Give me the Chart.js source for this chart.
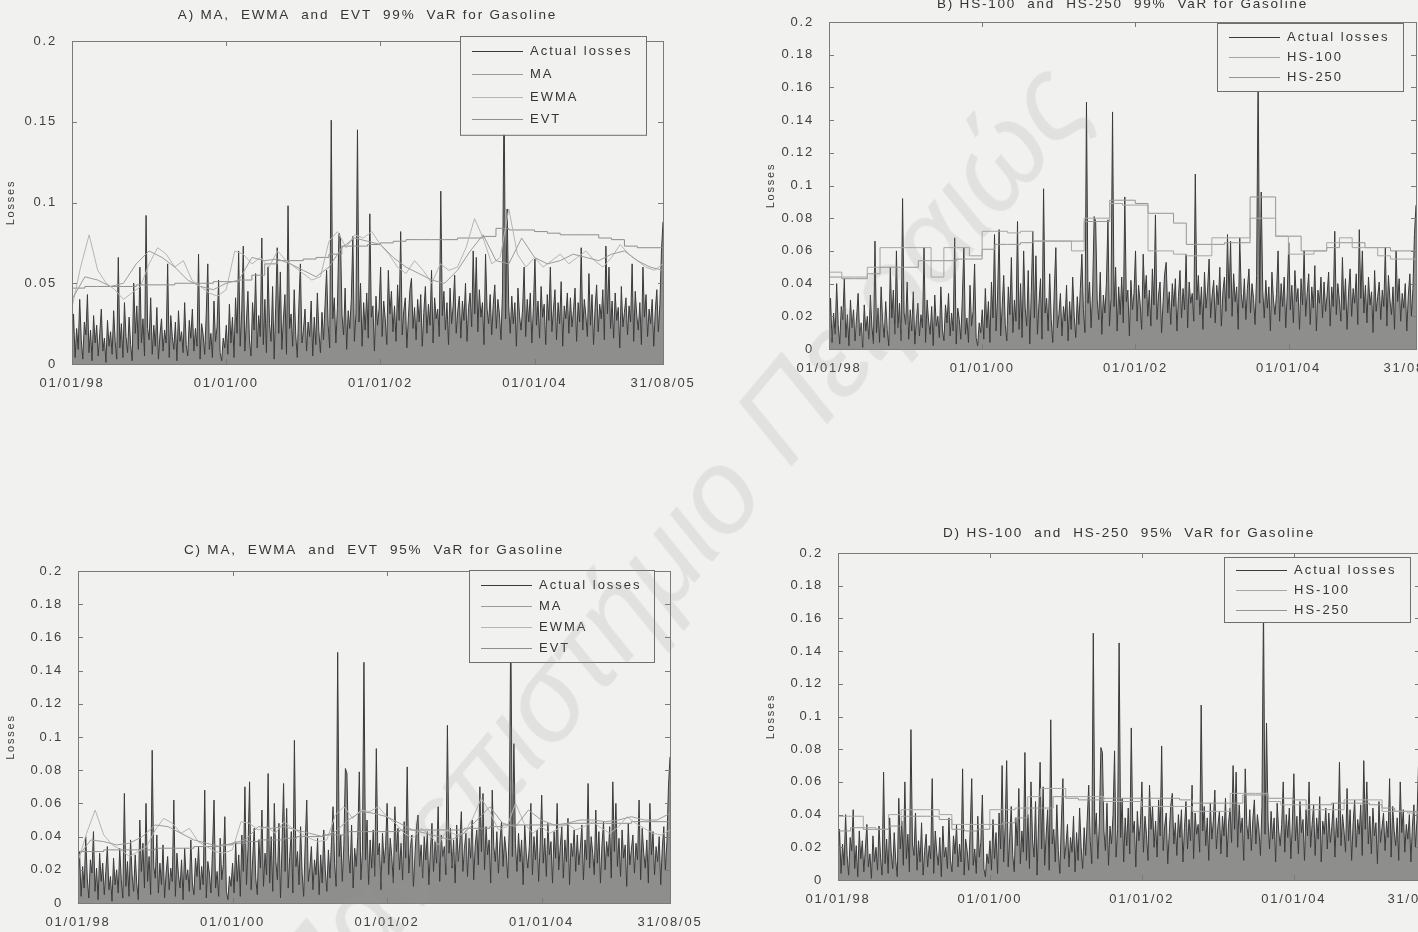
<!DOCTYPE html>
<html lang="el">
<head>
<meta charset="UTF-8">
<title>VaR for Gasoline</title>
<script src="https://cdn.jsdelivr.net/npm/chart.js"></script>
<style>
  html, body { margin: 0; padding: 0; }
  body { width: 1418px; height: 932px; overflow: hidden; background: #f1f1ef; position: relative; }
  canvas { position: absolute; }
  #wm { position: absolute; left: 673px; top: 545px; transform: translate(-50%, -50%) rotate(-50deg);
        font: italic 118px "Liberation Sans", Arial, sans-serif; color: rgba(150,150,150,0.17);
        white-space: nowrap; pointer-events: none; }
</style>
</head>
<body>

<canvas id="chartA"></canvas>
<canvas id="chartB"></canvas>
<canvas id="chartC"></canvas>
<canvas id="chartD"></canvas>
<div id="wm">Πανεπιστήμιο Πειραιώς</div>

<script>
// time axis in years since 01/01/98
const xEnd = 7.663;
const xTickPos = [0, 2, 4, 6, 7.663];
const xTickLabels = ['01/01/98', '01/01/00', '01/01/02', '01/01/04', '31/08/05'];

// actual losses (weekly-ish sample)
const lossValues = [
  0.012,0.031,0.004,0.022,0.009,0.040,0.015,0.003,0.026,0.018,0.043,0.007,0.021,0.002,0.030,0.013,0.024,0.005,0.019,0.034,0.008,0.016,0.001,0.027,0.011,
  0.020,0.006,0.033,0.014,0.003,0.066,0.010,0.025,0.004,0.038,0.017,0.007,0.029,0.012,0.002,0.050,0.019,0.036,0.009,0.060,0.013,0.028,0.005,0.092,0.022,
  0.015,0.041,0.006,0.024,0.011,0.035,0.003,0.018,0.028,0.008,0.021,0.013,0.062,0.004,0.030,0.017,0.009,0.026,0.002,0.033,0.014,0.020,0.007,0.038,0.012,
  0.005,0.027,0.016,0.034,0.008,0.022,0.011,0.068,0.003,0.025,0.018,0.006,0.031,0.062,0.009,0.019,0.004,0.039,0.014,0.023,0.052,0.007,0.002,0.016,0.010,
  0.024,0.006,0.037,0.013,0.029,0.004,0.041,0.019,0.070,0.011,0.033,0.073,0.008,0.026,0.045,0.015,0.005,0.038,0.021,0.056,0.010,0.030,0.017,0.078,0.012,
  0.040,0.007,0.060,0.025,0.014,0.048,0.003,0.035,0.072,0.019,0.057,0.009,0.028,0.043,0.006,0.098,0.022,0.031,0.011,0.046,0.018,0.004,0.036,0.062,0.013,
  0.021,0.034,0.008,0.026,0.017,0.039,0.005,0.029,0.012,0.044,0.020,0.007,0.032,0.015,0.037,0.058,0.024,0.010,0.151,0.028,0.041,0.013,0.035,0.081,0.078,
  0.030,0.018,0.047,0.009,0.033,0.022,0.040,0.079,0.014,0.031,0.145,0.026,0.050,0.011,0.038,0.021,0.044,0.016,0.093,0.029,0.036,0.008,0.042,0.024,0.034,
  0.060,0.017,0.039,0.028,0.012,0.058,0.031,0.045,0.020,0.036,0.014,0.049,0.027,0.082,0.018,0.033,0.041,0.010,0.029,0.046,0.053,0.022,0.035,0.015,0.040,
  0.026,0.043,0.011,0.032,0.048,0.019,0.037,0.024,0.058,0.013,0.041,0.028,0.034,0.017,0.107,0.030,0.045,0.021,0.038,0.012,0.047,0.025,0.036,0.055,0.019,
  0.033,0.042,0.016,0.039,0.027,0.050,0.014,0.035,0.044,0.023,0.070,0.031,0.066,0.020,0.046,0.029,0.038,0.012,0.068,0.034,0.025,0.043,0.018,0.037,0.049,
  0.022,0.040,0.031,0.015,0.045,0.170,0.028,0.096,0.036,0.019,0.042,0.025,0.038,0.011,0.047,0.030,0.021,0.034,0.060,0.017,0.040,0.026,0.044,0.013,0.035,
  0.065,0.024,0.039,0.016,0.048,0.029,0.037,0.012,0.043,0.027,0.060,0.020,0.034,0.046,0.015,0.038,0.025,0.051,0.011,0.036,0.028,0.044,0.019,0.041,0.023,
  0.033,0.047,0.014,0.038,0.026,0.072,0.021,0.040,0.030,0.017,0.056,0.024,0.043,0.012,0.035,0.049,0.020,0.037,0.028,0.046,0.015,0.073,0.031,0.060,0.022,
  0.039,0.016,0.044,0.027,0.035,0.010,0.048,0.023,0.032,0.041,0.018,0.036,0.026,0.062,0.014,0.045,0.030,0.021,0.038,0.012,0.060,0.029,0.043,0.017,0.034,
  0.025,0.040,0.011,0.033,0.046,0.020,0.037,0.070,0.088
];

// A) 99% VaR
const maA = [
  0.040,0.054,0.052,0.048,0.050,0.062, 0.070,0.066,0.060,0.052,0.048,0.046,
  0.050,0.052,0.066,0.064,0.065,0.062, 0.058,0.054,0.060,0.072,0.078,0.076,
  0.074,0.066,0.060,0.056,0.052,0.050, 0.058,0.070,0.080,0.064,0.062,0.078,
  0.066,0.062,0.064,0.068,0.066,0.064, 0.068,0.070,0.064,0.060,0.058
];
const ewmaA = [
  0.035,0.060,0.080,0.058,0.050,0.046,0.040,0.044,0.048,
  0.062,0.072,0.068,0.060,0.064,0.052,0.048,0.044,0.042,
  0.046,0.070,0.068,0.062,0.066,0.060,0.070,0.064,0.060,
  0.056,0.052,0.054,0.076,0.082,0.072,0.080,0.078,0.082,
  0.074,0.068,0.060,0.056,0.064,0.058,0.050,0.062,0.058,
  0.060,0.072,0.090,0.078,0.062,0.066,0.096,0.068,0.060,
  0.066,0.060,0.064,0.068,0.062,0.066,0.070,0.064,0.060,
  0.066,0.074,0.068,0.064,0.060,0.058,0.062
];
const evtA = [
  0.047,0.047,0.048,0.048,0.048,0.048, 0.049,0.049,0.049,0.050,0.050,0.050,
  0.051,0.051,0.052,0.055,0.062,0.064, 0.064,0.065,0.066,0.068,0.073,0.073,
  0.074,0.075,0.076,0.077,0.077,0.077, 0.077,0.078,0.078,0.079,0.084,0.083,
  0.083,0.082,0.081,0.080,0.080,0.080, 0.078,0.077,0.073,0.072,0.072
];

// B) 99% VaR, historical simulation
const hs100B = [
  0.045,0.047,0.044,0.044,0.050,0.062, 0.062,0.062,0.062,0.044,0.062,0.062,
  0.057,0.072,0.072,0.071,0.072,0.066, 0.066,0.066,0.060,0.080,0.080,0.089,
  0.088,0.088,0.060,0.060,0.058,0.057, 0.057,0.068,0.068,0.068,0.080,0.080,
  0.069,0.058,0.058,0.060,0.065,0.068, 0.062,0.062,0.057,0.055,0.055
];
const hs250B = [
  0.044,0.044,0.043,0.043,0.046,0.050, 0.050,0.050,0.054,0.054,0.054,0.055,
  0.055,0.061,0.064,0.064,0.065,0.066, 0.066,0.066,0.066,0.078,0.078,0.091,
  0.091,0.089,0.083,0.083,0.077,0.064, 0.064,0.064,0.065,0.065,0.093,0.093,
  0.069,0.069,0.060,0.060,0.062,0.065, 0.065,0.062,0.062,0.060,0.060
];

// C) 95% VaR
const maC = [
  0.028,0.038,0.037,0.035,0.036,0.040, 0.047,0.046,0.042,0.038,0.036,0.034,
  0.036,0.038,0.046,0.045,0.046,0.044, 0.042,0.040,0.043,0.050,0.055,0.054,
  0.052,0.048,0.044,0.042,0.040,0.038, 0.042,0.050,0.058,0.048,0.046,0.056,
  0.050,0.047,0.048,0.050,0.050,0.049, 0.050,0.052,0.050,0.050,0.054
];
const ewmaC = [
  0.025,0.042,0.056,0.041,0.035,0.032,0.028,0.031,0.034,
  0.044,0.051,0.048,0.042,0.045,0.037,0.034,0.031,0.030,
  0.032,0.049,0.048,0.044,0.046,0.042,0.049,0.045,0.042,
  0.039,0.037,0.038,0.053,0.058,0.051,0.056,0.055,0.058,
  0.052,0.048,0.042,0.039,0.045,0.041,0.035,0.044,0.041,
  0.042,0.051,0.063,0.055,0.044,0.046,0.060,0.048,0.042,
  0.046,0.042,0.045,0.048,0.044,0.046,0.049,0.045,0.042,
  0.046,0.052,0.048,0.045,0.042,0.041,0.044
];
const evtC = [
  0.031,0.031,0.031,0.032,0.032,0.032, 0.032,0.033,0.033,0.033,0.034,0.034,
  0.035,0.036,0.037,0.038,0.038,0.039, 0.040,0.040,0.041,0.041,0.043,0.043,
  0.043,0.043,0.044,0.044,0.044,0.044, 0.044,0.045,0.045,0.046,0.047,0.047,
  0.047,0.047,0.047,0.048,0.048,0.048, 0.048,0.048,0.049,0.049,0.049
];

// D) 95% VaR, historical simulation
const hs100D = [
  0.040,0.039,0.039,0.032,0.031,0.040, 0.043,0.043,0.043,0.040,0.034,0.034,
  0.034,0.043,0.043,0.044,0.051,0.056, 0.056,0.051,0.051,0.051,0.048,0.048,
  0.048,0.045,0.045,0.045,0.045,0.042, 0.042,0.042,0.053,0.053,0.053,0.048,
  0.046,0.046,0.043,0.043,0.043,0.049, 0.049,0.049,0.042,0.042,0.041
];
const hs250D = [
  0.028,0.030,0.032,0.031,0.031,0.033, 0.039,0.039,0.039,0.037,0.031,0.030,
  0.031,0.034,0.035,0.038,0.044,0.044, 0.051,0.050,0.049,0.049,0.050,0.050,
  0.050,0.050,0.050,0.050,0.049,0.047, 0.047,0.047,0.047,0.052,0.052,0.050,
  0.050,0.049,0.046,0.046,0.047,0.047, 0.047,0.046,0.044,0.042,0.042
];

const FONT = '"Liberation Sans", Arial, sans-serif';
const BG = '#f1f1ef';

function pts(arr) {
  const n = arr.length - 1;
  return arr.map((v, i) => ({ x: xEnd * i / n, y: v }));
}

function lossSet() {
  return { label: 'Actual losses', data: pts(lossValues), borderColor: '#3a3a3a',
           backgroundColor: 'rgba(60,60,60,0.55)', fill: 'origin', borderWidth: 1, order: 2 };
}
function varSet(label, arr, color, stepped) {
  return { label, data: pts(arr), borderColor: color, borderWidth: 1, fill: false,
           stepped: stepped ? 'after' : false, order: 1 };
}

// letter-spaced text, like the scanned figure
const spacing = {
  id: 'spacing',
  beforeUpdate(chart) { chart.ctx.letterSpacing = '1.8px'; },
  beforeDraw(chart) { chart.ctx.letterSpacing = '1.8px'; }
};

// MATLAB-like box, inward ticks and boxed legend
const frame = {
  id: 'frame',
  afterDatasetsDraw(chart, args, opts) {
    const { ctx, chartArea: a, scales } = chart;
    ctx.save();
    ctx.strokeStyle = '#7a7a7a';
    ctx.lineWidth = 1;
    ctx.strokeRect(Math.round(a.left) + 0.5, Math.round(a.top) + 0.5,
                   Math.round(a.right - a.left), Math.round(a.bottom - a.top));
    ctx.beginPath();
    scales.x.ticks.forEach(t => {
      const px = Math.round(scales.x.getPixelForValue(t.value)) + 0.5;
      ctx.moveTo(px, a.bottom); ctx.lineTo(px, a.bottom - 5);
      ctx.moveTo(px, a.top); ctx.lineTo(px, a.top + 5);
    });
    scales.y.ticks.forEach(t => {
      const py = Math.round(scales.y.getPixelForValue(t.value)) + 0.5;
      ctx.moveTo(a.left, py); ctx.lineTo(a.left + 5, py);
      ctx.moveTo(a.right, py); ctx.lineTo(a.right - 5, py);
    });
    ctx.stroke();

    const sets = chart.data.datasets;
    const h = opts.rowH * sets.length + opts.padY * 2;
    ctx.fillStyle = BG;
    ctx.fillRect(opts.x, opts.y, opts.w, h);
    ctx.strokeStyle = '#6e6e6e';
    ctx.strokeRect(opts.x + 0.5, opts.y + 0.5, opts.w, h);
    ctx.font = '13px ' + FONT;
    ctx.letterSpacing = '2px';
    ctx.textBaseline = 'middle';
    sets.forEach((ds, i) => {
      const cy = Math.round(opts.y + opts.padY + opts.rowH * (i + 0.5)) + 0.5;
      ctx.strokeStyle = ds.borderColor;
      ctx.beginPath();
      ctx.moveTo(opts.x + 12, cy); ctx.lineTo(opts.x + 63, cy);
      ctx.stroke();
      ctx.fillStyle = '#353535';
      ctx.fillText(ds.label, opts.x + 70, cy);
    });
    ctx.restore();
  }
};

function build(id, L, datasets, yStep, title) {
  const cv = document.getElementById(id);
  cv.width = L.w; cv.height = L.h;
  cv.style.left = L.x + 'px'; cv.style.top = L.y + 'px';
  return new Chart(cv, {
    type: 'line',
    data: { datasets },
    options: {
      responsive: false, animation: false, devicePixelRatio: 1, events: [],
      layout: { padding: { left: 0, right: L.padR, top: 0, bottom: 0 } },
      elements: { point: { radius: 0 }, line: { tension: 0 } },
      plugins: {
        legend: { display: false },
        tooltip: { enabled: false },
        title: { display: true, text: title, fullSize: false, color: '#353535',
                 font: { family: FONT, size: 13.5, weight: 'normal' },
                 padding: { top: L.tTop, bottom: L.tBot } },
        frame: L.legend
      },
      scales: {
        x: {
          type: 'linear', min: 0, max: xEnd,
          grid: { display: false }, border: { display: false },
          afterBuildTicks: s => { s.ticks = xTickPos.map(v => ({ value: v })); },
          afterFit: s => { s.height = L.xH; },
          ticks: { autoSkip: false, maxRotation: 0, padding: 4, color: '#404040',
                   font: { family: FONT, size: 13 }, callback: (v, i) => xTickLabels[i] }
        },
        y: {
          min: 0, max: 0.2,
          grid: { display: false }, border: { display: false },
          afterFit: s => { s.width = L.yW; },
          title: { display: true, text: 'Losses', color: '#3a3a3a',
                   font: { family: FONT, size: 11 }, padding: { top: 4, bottom: 0 } },
          ticks: { stepSize: yStep, padding: 7, color: '#404040',
                   font: { family: FONT, size: 13 }, callback: v => String(+v.toFixed(2)) }
        }
      }
    },
    plugins: [spacing, frame]
  });
}

build('chartA',
  { x: 0, y: 0, w: 703, h: 400, padR: 40, yW: 72, xH: 36, tTop: 6.9, tBot: 17.9,
    legend: { x: 460, y: 36, w: 186, rowH: 22.7, padY: 4 } },
  [lossSet(), varSet('MA', maA, '#9c9c9c'), varSet('EWMA', ewmaA, '#b5b5b5'), varSet('EVT', evtA, '#8e8e8e', true)],
  0.05, 'A) MA,  EWMA  and  EVT  99%  VaR for Gasoline');

build('chartB',
  { x: 760, y: -4, w: 696, h: 387, padR: 40, yW: 69, xH: 34, tTop: 0, tBot: 9.8,
    legend: { x: 457, y: 27, w: 186, rowH: 20, padY: 4 } },
  [lossSet(), varSet('HS-100', hs100B, '#a6a6a6', true), varSet('HS-250', hs250B, '#959595', true)],
  0.02, 'B) HS-100  and  HS-250  99%  VaR for Gasoline');

build('chartC',
  { x: 0, y: 530, w: 710, h: 407, padR: 40, yW: 78, xH: 34, tTop: 11.7, tBot: 13.1,
    legend: { x: 469, y: 40, w: 185, rowH: 21, padY: 4 } },
  [lossSet(), varSet('MA', maC, '#9c9c9c'), varSet('EWMA', ewmaC, '#b5b5b5'), varSet('EVT', evtC, '#8e8e8e', true)],
  0.02, 'C) MA,  EWMA  and  EVT  95%  VaR for Gasoline');

build('chartD',
  { x: 760, y: 515, w: 700, h: 399, padR: 40, yW: 78, xH: 34, tTop: 9.7, tBot: 12.1,
    legend: { x: 464, y: 42, w: 186, rowH: 20, padY: 2.5 } },
  [lossSet(), varSet('HS-100', hs100D, '#a6a6a6', true), varSet('HS-250', hs250D, '#959595', true)],
  0.02, 'D) HS-100  and  HS-250  95%  VaR for Gasoline');
</script>
</body>
</html>
